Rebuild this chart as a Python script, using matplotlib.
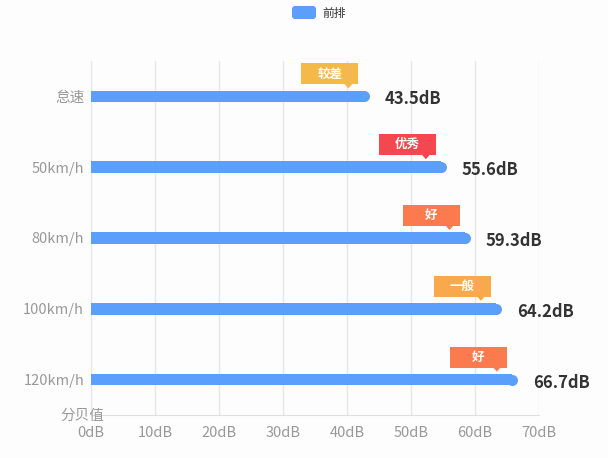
import matplotlib
matplotlib.use("Agg")
import matplotlib.pyplot as plt
from matplotlib.patches import Rectangle, Polygon, FancyBboxPatch

plt.rcParams['font.family'] = ['Noto Sans CJK SC', 'DejaVu Sans']

categories = ['怠速', '50km/h', '80km/h', '100km/h', '120km/h']
values = [43.5, 55.6, 59.3, 64.2, 66.7]
ratings = ['较差', '优秀', '好', '一般', '好']
rating_colors = ['#f5b94a', '#f5474f', '#fb7a4e', '#f7a94b', '#fb7a4e']
xticks = [0, 10, 20, 30, 40, 50, 60, 70]
xticklabels = ['%ddB' % t for t in xticks]
series_name = '前排'
axis_name = '分贝值'

bar_color = '#5b9efc'
W, H = 608, 458
fig = plt.figure(figsize=(W / 100, H / 100), dpi=100, facecolor='#fdfdfd')
ax = fig.add_axes([91 / W, 1 - 415 / H, 448 / W, 354 / H])
ax.set_facecolor('#fdfdfd')
ax.set_xlim(0, 70)
ax.set_ylim(4.5, -0.5)

ypos = list(range(len(categories)))
px_per_unit = 448 / 70
r_px = 5.5
r_data = r_px / px_per_unit
ax.barh(ypos, [v - r_data for v in values], height=11.5 / 70.8, color=bar_color, zorder=3)
ax.plot([v - r_data for v in values], ypos, 'o', ms=11 * 0.72, color=bar_color,
        mec='none', zorder=3)

ax.set_xticks(xticks)
ax.set_xticklabels(xticklabels)
ax.set_yticks(ypos)
ax.set_yticklabels(categories)
ax.tick_params(axis='both', length=0, colors='#999999', labelsize=10.5)
ax.tick_params(axis='x', pad=8)
ax.tick_params(axis='y', pad=5)
ax.grid(axis='x', color='#e6e6e6', lw=1, zorder=0)
for s in ['top', 'right']:
    ax.spines[s].set_visible(False)
ax.spines['left'].set_color('#e6e6e6')
ax.spines['bottom'].set_color('#e0e0e0')

# value labels and rating callouts
for v, y, rt, rc in zip(values, ypos, ratings, rating_colors):
    ax.annotate('%.1fdB' % v, xy=(v, y), xytext=(15, -3), textcoords='offset pixels',
                ha='left', va='center', fontsize=12, fontweight='bold', color='#333333',
                zorder=5)
    dx, dy = ax.transData.transform((v, y))
    bx1 = dx - 11
    bx0 = bx1 - 57
    by0 = dy + 12
    by1 = dy + 33
    fig.patches.append(Rectangle((bx0, by0), bx1 - bx0, by1 - by0, transform=None,
                                 facecolor=rc, edgecolor='none', zorder=4))
    px = dx - 21
    fig.patches.append(Polygon([(px - 4, by0 + 0.5), (px + 4, by0 + 0.5), (px, by0 - 4)],
                               closed=True, transform=None, facecolor=rc,
                               edgecolor='none', zorder=4))
    fig.text((bx0 + bx1) / 2 / W, (by0 + by1) / 2 / H, rt, ha='center', va='center',
             fontsize=9, fontweight='bold', color='white', zorder=6)

fig.text(82 / W, 1 - 416 / H, axis_name, ha='center', va='center', fontsize=10.5,
         color='#999999')

# legend
fig.patches.append(FancyBboxPatch((292, H - 19), 24, 13, boxstyle='round,pad=0,rounding_size=3',
                                  transform=None, facecolor=bar_color, edgecolor='none'))
fig.text(322 / W, 1 - 13 / H, series_name, ha='left', va='center', fontsize=8.5,
         color='#333333')

fig.savefig('out.png', dpi=100, facecolor=fig.get_facecolor())
